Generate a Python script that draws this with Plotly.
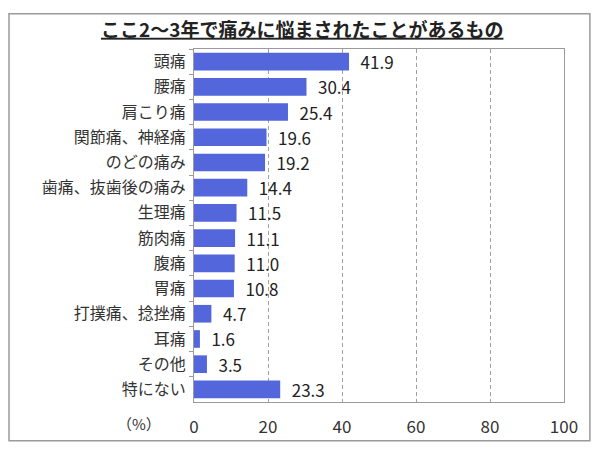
import plotly.graph_objects as go

# ここ2～3年で痛みに悩まされたことがあるもの (%)
categories = ['頭痛', '腰痛', '肩こり痛', '関節痛、神経痛', 'のどの痛み', '歯痛、抜歯後の痛み',
              '生理痛', '筋肉痛', '腹痛', '胃痛', '打撲痛、捻挫痛', '耳痛', 'その他', '特にない']
values = [41.9, 30.4, 25.4, 19.6, 19.2, 14.4, 11.5, 11.1, 11.0, 10.8, 4.7, 1.6, 3.5, 23.3]
x_ticks = [0, 20, 40, 60, 80, 100]

FONT = 'Noto Sans CJK JP'

fig = go.Figure(go.Bar(
    x=values,
    y=categories,
    orientation='h',
    marker=dict(color='#5366dc', line=dict(width=0)),
    text=[f'\u2002{v:.1f}' for v in values],
    textposition='outside',
    constraintext='none',
    textfont=dict(family=FONT, size=17, color='#222222'),
    cliponaxis=False,
))

# page body has an 8px margin, so the figure is made 8px smaller
fig.update_layout(
    width=592, height=442,
    margin=dict(l=186, r=36, t=41, b=48),
    paper_bgcolor='white',
    plot_bgcolor='white',
    showlegend=False,
    bargap=0.3,
    font=dict(family=FONT, color='#333333'),
    title=dict(
        text='<u><b>ここ2～3年で痛みに悩まされたことがあるもの</b></u>',
        x=0.497, xanchor='center', y=0.95, yanchor='middle',
        font=dict(family=FONT, size=19, color='#222222'),
    ),
    xaxis=dict(
        range=[0, 100], tickvals=x_ticks, ticks='',
        showgrid=True, gridcolor='#a0a0a0', griddash='4px,3px', gridwidth=1,
        showline=True, linecolor='#9a9a9a', mirror=True,
        tickfont=dict(family=FONT, size=17, color='#333333'),
        ticklabelstandoff=10,
        zeroline=False, fixedrange=True,
    ),
    yaxis=dict(
        autorange='reversed', ticks='outside', ticklen=4, tickcolor='#9a9a9a',
        tickson='boundaries', showline=True, linecolor='#9a9a9a', mirror=True,
        tickfont=dict(family=FONT, size=16, color='#333333'),
        ticklabelstandoff=4, fixedrange=True,
    ),
    annotations=[dict(
        text='（%）', xref='paper', yref='paper', x=-0.149, y=-0.062,
        xanchor='center', yanchor='middle', showarrow=False,
        font=dict(family=FONT, size=15, color='#333333'),
    )],
    shapes=[dict(
        type='rect', xref='paper', yref='paper',
        x0=-0.5, x1=1.07, y0=-0.11, y1=1.1,
        line=dict(color='#9a9a9a', width=1.5), layer='above',
    )],
)

fig.write_html('out.html')
